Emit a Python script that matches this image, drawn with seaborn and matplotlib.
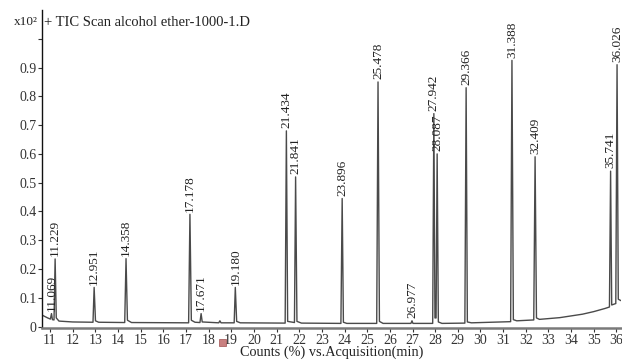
import matplotlib
matplotlib.use("Agg")
import matplotlib.pyplot as plt
import seaborn as sns
from matplotlib.patches import Rectangle

# chromatogram trace (time in min, counts x10^2)
time = [10.65, 10.90, 11.02, 11.069, 11.11, 11.18, 11.229, 11.28, 11.40, 12.00,
        12.90, 12.951, 13.01, 13.15, 14.30, 14.358, 14.42, 14.60,
        17.12, 17.178, 17.24, 17.40, 17.62, 17.671, 17.72, 18.45, 18.50, 18.55,
        19.13, 19.180, 19.24, 19.40, 21.38, 21.434, 21.49, 21.79, 21.841, 21.90, 22.10,
        23.84, 23.896, 23.95, 24.10, 25.42, 25.478, 25.54, 25.70,
        26.93, 26.977, 27.02, 27.89, 27.942, 27.99, 28.04, 28.087, 28.14, 28.30,
        29.31, 29.366, 29.42, 29.60, 31.33, 31.388, 31.45, 31.60,
        32.35, 32.409, 32.47, 32.60, 33.50, 34.50, 35.00, 35.50,
        35.69, 35.741, 35.79, 35.97, 36.026, 36.08, 36.20]
counts = [0.040, 0.030, 0.026, 0.045, 0.024, 0.023, 0.235, 0.030, 0.019, 0.016,
          0.015, 0.136, 0.020, 0.015, 0.014, 0.236, 0.022, 0.014,
          0.013, 0.390, 0.022, 0.015, 0.014, 0.045, 0.016, 0.013, 0.020, 0.013,
          0.013, 0.136, 0.018, 0.013, 0.012, 0.680, 0.018, 0.014, 0.520, 0.018, 0.012,
          0.011, 0.445, 0.015, 0.011, 0.011, 0.850, 0.018, 0.011,
          0.011, 0.020, 0.011, 0.011, 0.740, 0.030, 0.030, 0.600, 0.016, 0.011,
          0.012, 0.830, 0.016, 0.013, 0.017, 0.925, 0.024, 0.020,
          0.023, 0.590, 0.030, 0.025, 0.031, 0.043, 0.052, 0.063,
          0.068, 0.540, 0.075, 0.080, 0.910, 0.095, 0.090]

# labelled peaks
peak_rt = [11.069, 11.229, 12.951, 14.358, 17.178, 17.671, 19.180, 21.434, 21.841,
           23.896, 25.478, 26.977, 27.942, 28.087, 29.366, 31.388, 32.409, 35.741, 36.026]
peak_h = [0.045, 0.235, 0.136, 0.236, 0.390, 0.045, 0.136, 0.680, 0.520,
          0.445, 0.850, 0.020, 0.740, 0.600, 0.830, 0.925, 0.590, 0.540, 0.910]
peak_label = ["11.069", "11.229", "12.951", "14.358", "17.178", "17.671", "19.180",
              "21.434", "21.841", "23.896", "25.478", "26.977", "27.942", "28.087",
              "29.366", "31.388", "32.409", "35.741", "36.026"]

x_ticks = list(range(11, 37))
y_ticks = [0, 0.1, 0.2, 0.3, 0.4, 0.5, 0.6, 0.7, 0.8, 0.9, 1.0]
y_tick_labels = ["0", "0.1", "0.2", "0.3", "0.4", "0.5", "0.6", "0.7", "0.8", "0.9", ""]

sns.set_style("ticks")
plt.rcParams["font.family"] = ["Liberation Serif", "DejaVu Serif"]

fig = plt.figure(figsize=(6.22, 3.6), dpi=100)
ax = fig.add_axes([42 / 622, 1 - 328 / 360, 579 / 622, 318 / 360])

sns.lineplot(x=time, y=counts, ax=ax, estimator=None, sort=False,
             color="#4a4a4a", linewidth=1.0)

for rt, h, lab in zip(peak_rt, peak_h, peak_label):
    ax.annotate(lab, xy=(rt, h), xytext=(0, 2), textcoords="offset points",
                rotation=90, ha="center", va="bottom", fontsize=9.5, color="#222222")

ax.set_xlim(10.65, 36.20)
ax.set_ylim(-0.005, 1.10)
ax.set_xticks(x_ticks)
ax.set_xticklabels([str(t) for t in x_ticks], fontsize=10)
ax.set_yticks(y_ticks)
ax.set_yticklabels(y_tick_labels, fontsize=10)
ax.tick_params(axis="both", direction="out", length=3, width=0.8, pad=1, colors="#333333")
ax.set_xlabel("Counts (%) vs.Acquisition(min)", fontsize=10.3, labelpad=-1, color="#222222")
ax.set_ylabel("")

for side in ["top", "right"]:
    ax.spines[side].set_visible(False)
ax.spines["left"].set_color("#111111")
ax.spines["left"].set_linewidth(1.0)
ax.spines["bottom"].set_color("#7a7a7a")
ax.spines["bottom"].set_linewidth(1.8)

ax.text(0.004, 0.962, "+ TIC Scan alcohol ether-1000-1.D", transform=ax.transAxes,
        fontsize=10.5, ha="left", va="center", color="#222222")
fig.text(14 / 622, 1 - 22 / 360, "x10²", fontsize=9.5, ha="left", va="center", color="#222222")

fig.patches.append(Rectangle((219 / 622, 1 - 346 / 360), 7 / 622, 7 / 360,
                             transform=fig.transFigure, facecolor="#c98080",
                             edgecolor="#a05050", linewidth=0.5))

fig.savefig("out.png", dpi=100)
